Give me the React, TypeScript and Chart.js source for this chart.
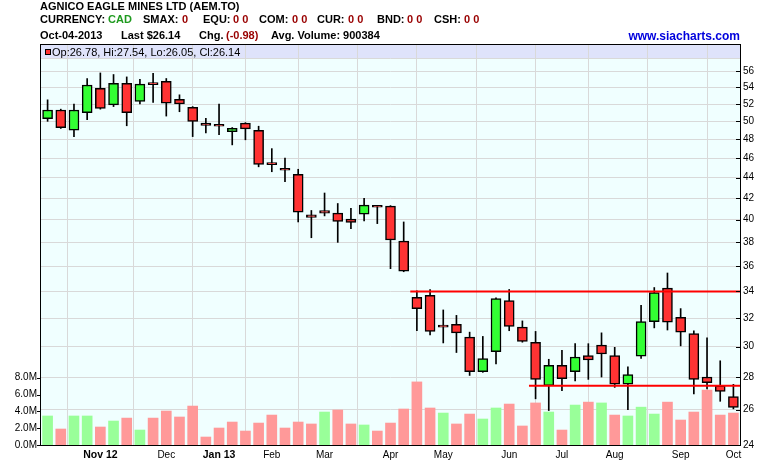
import React, { useEffect, useRef } from 'react';
import { Chart, registerables } from 'chart.js';

Chart.register(...registerables);

// ---- data (weekly, week ending Fri Oct 5 2012 ... Oct 4 2013) ----
const opens = [50.3, 51.3, 49.0, 51.0, 53.9, 51.9, 54.5, 52.3, 54.4, 54.75, 52.55, 51.6, 49.8, 49.65, 48.85, 49.8, 49.0, 45.38, 44.95, 44.35, 40.45, 40.85, 40.6, 40.05, 40.5, 41.2, 41.25, 38.1, 33.55, 33.7, 31.5, 31.55, 30.65, 28.35, 29.65, 33.3, 31.35, 30.3, 27.45, 28.75, 28.35, 29.4, 30.1, 29.4, 27.55, 29.35, 31.75, 34.25, 32.05, 30.9, 28.0, 27.45, 26.78];
const highs = [52.5, 51.4, 52.0, 55.1, 55.8, 55.6, 55.3, 55.0, 55.75, 55.1, 53.1, 51.7, 50.35, 52.0, 49.3, 49.85, 49.45, 47.0, 46.0, 44.85, 40.85, 42.5, 41.5, 41.05, 42.0, 41.25, 41.3, 39.8, 34.05, 34.15, 32.6, 32.2, 31.0, 30.7, 33.5, 34.15, 31.8, 31.05, 29.15, 29.75, 30.2, 30.2, 30.95, 29.95, 28.65, 32.95, 34.3, 35.45, 32.7, 31.1, 30.6, 29.05, 27.54];
const lows = [50.0, 49.2, 48.3, 50.2, 51.4, 51.7, 49.5, 52.0, 52.2, 50.6, 51.1, 48.3, 48.7, 48.5, 47.4, 47.95, 45.1, 44.6, 43.6, 39.8, 38.4, 40.35, 38.0, 39.2, 39.9, 39.65, 35.8, 35.55, 31.1, 30.8, 30.25, 29.6, 28.1, 28.3, 28.85, 31.1, 30.3, 26.65, 25.95, 27.15, 27.75, 27.85, 28.0, 27.35, 26.0, 29.2, 31.3, 31.15, 30.05, 26.95, 27.25, 26.5, 26.05];
const closes = [51.3, 49.3, 51.3, 54.3, 51.5, 54.5, 51.0, 54.4, 54.35, 52.1, 52.0, 50.0, 49.55, 49.45, 49.2, 49.15, 45.35, 45.33, 44.75, 40.7, 40.2, 40.6, 39.85, 39.75, 41.35, 41.15, 38.2, 35.6, 32.7, 31.05, 31.35, 30.95, 28.35, 29.2, 33.45, 31.4, 30.35, 27.85, 28.75, 27.9, 29.3, 29.1, 29.5, 27.55, 28.15, 31.75, 33.9, 31.7, 31.0, 27.85, 27.65, 27.1, 26.14];
const volumesM = [3.45, 1.9, 3.45, 3.45, 2.14, 2.85, 3.2, 1.78, 3.2, 4.04, 3.33, 4.63, 0.95, 2.02, 2.73, 1.66, 2.61, 3.56, 2.02, 2.73, 2.5, 3.92, 4.16, 2.5, 2.38, 1.66, 2.61, 4.28, 7.5, 4.4, 3.8, 2.5, 3.68, 3.09, 4.4, 4.87, 2.26, 5.0, 3.92, 1.78, 4.75, 5.1, 5.0, 3.56, 3.45, 4.5, 3.68, 5.1, 2.97, 3.92, 6.53, 3.56, 3.8];

const monthTickIndex = [4, 9, 13, 17, 21, 26, 30, 35, 39, 43, 48, 52];
const monthTickLabel = ['Nov 12', 'Dec', 'Jan 13', 'Feb', 'Mar', 'Apr', 'May', 'Jun', 'Jul', 'Aug', 'Sep', 'Oct'];
const priceTicks = [24, 26, 28, 30, 32, 34, 36, 38, 40, 42, 44, 46, 48, 50, 52, 54, 56];
const volumeTicks = [0, 2, 4, 6, 8];

const supportLevels = [34.0, 27.45];
const supportStartIndex = [27.5, 36.5];

const FONT = '"Liberation Sans", Arial, Helvetica, sans-serif';

const GREEN = '#33ff33';
const RED = '#ff3333';
const VOL_GREEN = '#99ff99';
const VOL_RED = '#ff9999';
const GRID = '#d9d9d9';

const backgroundPlugin = {
  id: 'bgband',
  beforeDraw(chart: any) {
    const { ctx, chartArea } = chart;
    const { left, top, right, bottom } = chartArea;
    ctx.save();
    ctx.fillStyle = '#f0ffff';
    ctx.fillRect(left, top, right - left, bottom - top);
    ctx.fillStyle = '#dfe3fb';
    ctx.fillRect(left, top, right - left, 13.5);
    ctx.strokeStyle = GRID;
    ctx.lineWidth = 1;
    ctx.beginPath();
    ctx.moveTo(left, top + 13.5);
    ctx.lineTo(right, top + 13.5);
    ctx.stroke();
    ctx.restore();
  },
  afterDraw(chart: any) {
    const { ctx, chartArea, scales } = chart;
    const { left, top, right, bottom } = chartArea;
    ctx.save();
    ctx.strokeStyle = '#000';
    ctx.lineWidth = 1;
    ctx.strokeRect(left - 0.5, top - 0.5, right - left + 1, bottom - top + 1);
    ctx.beginPath();
    for (const v of priceTicks) {
      const y = Math.round(scales.price.getPixelForValue(v)) + 0.5;
      ctx.moveTo(right - 4, y);
      ctx.lineTo(right, y);
    }
    for (const v of volumeTicks) {
      const y = Math.round(scales.vol.getPixelForValue(v)) + 0.5;
      ctx.moveTo(left - 4, y);
      ctx.lineTo(left, y);
    }
    ctx.stroke();
    // legend marker
    ctx.fillStyle = RED;
    ctx.fillRect(45.5, 49.5, 5, 5);
    ctx.strokeRect(45.5, 49.5, 5, 5);
    ctx.restore();
  },
};

function App() {
  const ref = useRef<HTMLCanvasElement>(null);

  useEffect(() => {
    const idx = closes.map((_, i) => i);
    const bodyColors = closes.map((c, i) => (c >= opens[i] ? GREEN : RED));
    const volColors = closes.map((c, i) => (c >= (i === 0 ? opens[0] : closes[i - 1]) ? VOL_GREEN : VOL_RED));

    const chart = new Chart(ref.current as HTMLCanvasElement, {
      type: 'bar',
      data: {
        datasets: [
          ...supportLevels.map((lvl, k) => ({
            type: 'line' as const,
            data: [
              { x: supportStartIndex[k], y: lvl },
              { x: 52.5, y: lvl },
            ],
            yAxisID: 'price',
            borderColor: '#ff0000',
            borderWidth: 2,
            pointRadius: 0,
            order: 0,
          })),
          {
            type: 'bar' as const,
            data: idx.map((i) => ({ x: i, y: [Math.min(opens[i], closes[i]), Math.max(opens[i], closes[i])] })),
            yAxisID: 'price',
            backgroundColor: bodyColors,
            borderColor: '#000',
            borderWidth: 1.5,
            borderSkipped: false,
            barThickness: 10,
            minBarLength: 2,
            grouped: false,
            order: 1,
          },
          {
            type: 'bar' as const,
            data: idx.map((i) => ({ x: i, y: [lows[i], highs[i]] })),
            yAxisID: 'price',
            backgroundColor: '#000',
            borderWidth: 0,
            barThickness: 1,
            grouped: false,
            order: 2,
          },
          {
            type: 'bar' as const,
            data: idx.map((i) => ({ x: i, y: volumesM[i] })),
            yAxisID: 'vol',
            backgroundColor: volColors,
            borderWidth: 0,
            barThickness: 10,
            grouped: false,
            order: 3,
          },
        ] as any,
      },
      options: {
        animation: false,
        responsive: false,
        devicePixelRatio: 1,
        events: [],
        layout: { padding: { top: 45, left: 0, right: 0, bottom: 0 } },
        plugins: { legend: { display: false }, tooltip: { enabled: false } },
        scales: {
          x: {
            type: 'linear',
            min: -0.5,
            max: 52.5,
            bounds: 'data',
            offset: false,
            grid: { color: GRID, drawTicks: false, lineWidth: 1 },
            border: { display: false },
            ticks: {
              autoSkip: false,
              maxRotation: 0,
              padding: 4,
              color: '#000',
              font: (ctx: any) => {
                const i = monthTickIndex.indexOf(ctx.tick ? ctx.tick.value : -1);
                const lbl = i >= 0 ? monthTickLabel[i] : '';
                const bold = /\d/.test(lbl);
                return { family: FONT, size: bold ? 10.5 : 10, weight: bold ? 'bold' : 'normal' };
              },
              callback: (v: any) => {
                const i = monthTickIndex.indexOf(Number(v));
                return i >= 0 ? monthTickLabel[i] : '';
              },
            },
            afterBuildTicks: (s: any) => {
              s.ticks = monthTickIndex.map((v) => ({ value: v }));
            },
            afterFit: (s: any) => {
              s.height = 21;
            },
          } as any,
          price: {
            type: 'logarithmic',
            position: 'right',
            min: 24,
            max: 59.45,
            bounds: 'data',
            grid: { color: GRID, drawTicks: false, lineWidth: 1 },
            border: { display: false },
            ticks: {
              padding: 3,
              color: '#000',
              font: { family: FONT, size: 10 },
              callback: (v: any) => String(v),
            },
            afterBuildTicks: (s: any) => {
              s.ticks = priceTicks.map((v) => ({ value: v }));
            },
            afterFit: (s: any) => {
              s.width = 40;
            },
          } as any,
          vol: {
            type: 'linear',
            position: 'left',
            min: 0,
            max: 47.56,
            bounds: 'data',
            grid: { display: false, drawTicks: false },
            border: { display: false },
            ticks: {
              padding: 4,
              color: '#000',
              font: { family: FONT, size: 10 },
              callback: (v: any) => Number(v).toFixed(1) + 'M',
            },
            afterBuildTicks: (s: any) => {
              s.ticks = volumeTicks.map((v) => ({ value: v }));
            },
            afterFit: (s: any) => {
              s.width = 41;
            },
          } as any,
        },
      },
      plugins: [backgroundPlugin],
    } as any);

    return () => chart.destroy();
  }, []);

  const bold11: React.CSSProperties = {
    position: 'absolute',
    whiteSpace: 'nowrap',
    fontFamily: FONT,
    fontSize: 11,
    fontWeight: 'bold',
    lineHeight: '13px',
    color: '#000',
  };
  const DARKRED = '#990000';
  const DARKGREEN = '#1f9a1f';

  const line2: [string, number, string][] = [
    ['CURRENCY:', 40, '#000'],
    ['CAD', 108, DARKGREEN],
    ['SMAX:', 143, '#000'],
    ['0', 182, DARKRED],
    ['EQU:', 203, '#000'],
    ['0 0', 233, DARKRED],
    ['COM:', 259, '#000'],
    ['0 0', 292, DARKRED],
    ['CUR:', 317, '#000'],
    ['0 0', 348, DARKRED],
    ['BND:', 377, '#000'],
    ['0 0', 407, DARKRED],
    ['CSH:', 434, '#000'],
    ['0 0', 464, DARKRED],
  ];
  const line3: [string, number, string][] = [
    ['Oct-04-2013', 40, '#000'],
    ['Last $26.14', 121, '#000'],
    ['Chg.', 199, '#000'],
    ['(-0.98)', 226, DARKRED],
    ['Avg. Volume: 900384', 271, '#000'],
  ];

  return (
    <div style={{ position: 'absolute', left: 0, top: 0, width: 780, height: 466, background: '#fff', overflow: 'hidden' }}>
      <canvas ref={ref} width={780} height={466} style={{ position: 'absolute', left: 0, top: 0, width: 780, height: 466 }} />
      <span style={{ ...bold11, left: 40, top: 0 }}>AGNICO EAGLE MINES LTD (AEM.TO)</span>
      {line2.map(([t, x, c], i) => (
        <span key={'l2' + i} style={{ ...bold11, left: x, top: 13, color: c }}>{t}</span>
      ))}
      {line3.map(([t, x, c], i) => (
        <span key={'l3' + i} style={{ ...bold11, left: x, top: 29, color: c }}>{t}</span>
      ))}
      <span style={{ ...bold11, fontSize: 12, lineHeight: '14px', right: 40, top: 29, color: '#0000dd' }}>www.siacharts.com</span>
      <span style={{ position: 'absolute', whiteSpace: 'nowrap', fontFamily: FONT, fontSize: 11, lineHeight: '13px', left: 52, top: 46, color: '#000' }}>
        Op:26.78, Hi:27.54, Lo:26.05, Cl:26.14
      </span>
    </div>
  );
}

export default App;
